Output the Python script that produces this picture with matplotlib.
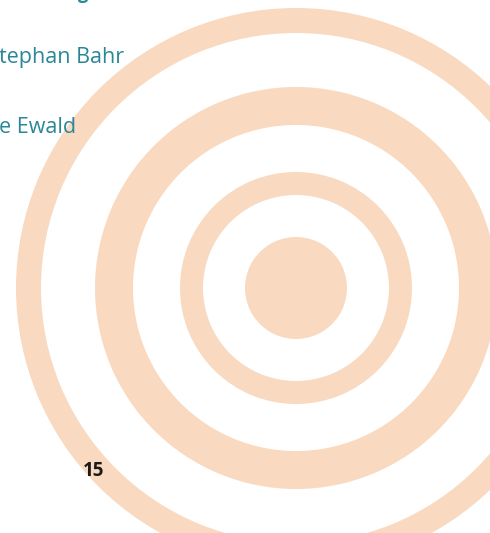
import matplotlib
matplotlib.use("Agg")
import matplotlib.pyplot as plt
from matplotlib.patches import Wedge

# target rings, in pixels (outer radius, inner radius)
ring_outer = [280, 201, 116, 51]
ring_inner = [255, 163, 93, 0]
center = (296, 288)

names = ["tephan Bahr", "e Ewald"]
name_baselines = [63, 133]
page_number = "15"

ring_color = "#F9D9BF"
teal = "#2A8797"

fig = plt.figure(figsize=(4.9, 5.33), dpi=100)
ax = fig.add_axes([0, 0, 1, 1])
ax.set_xlim(0, 490)
ax.set_ylim(533, 0)
ax.set_aspect("equal")
ax.axis("off")

for r_out, r_in in zip(ring_outer, ring_inner):
    ax.add_patch(Wedge(center, r_out, 0, 360, width=r_out - r_in,
                       facecolor=ring_color, edgecolor="none"))

# descender of a heading cut off above the page
ax.text(78, -1, "g", color=teal, fontsize=13, fontweight="bold",
        family="Open Sans", va="baseline", ha="left", clip_on=False)

for name, yb in zip(names, name_baselines):
    ax.text(-1, yb, name, color=teal, fontsize=15.5, family="Open Sans",
            va="baseline", ha="left")

ax.text(83, 476, page_number, color="#1a1a1a", fontsize=13.5,
        fontweight="bold", family="Open Sans", va="baseline", ha="left")

fig.savefig("out.png", dpi=100)
